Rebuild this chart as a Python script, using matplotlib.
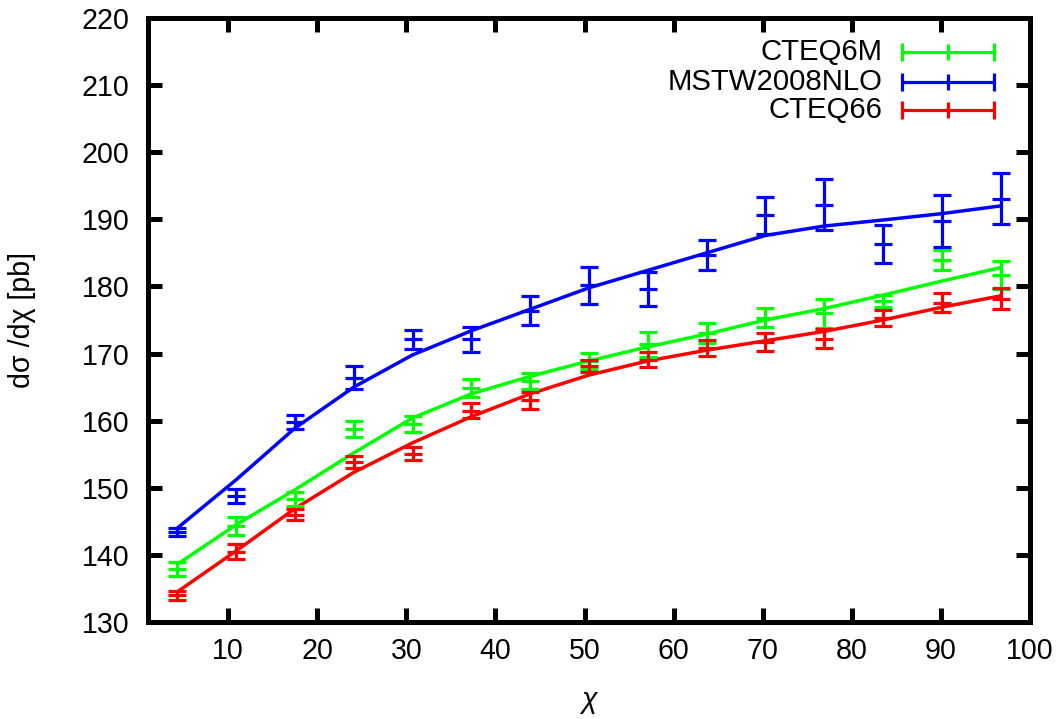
import numpy as np
import matplotlib
matplotlib.use("Agg")
import matplotlib.pyplot as plt

plt.rcParams['font.family'] = ['Liberation Sans', 'DejaVu Sans']

# bin centres in chi
chi = [4.3, 10.9, 17.5, 24.1, 30.7, 37.3, 43.9, 50.5, 57.1, 63.7, 70.3, 76.9, 83.5, 90.1, 96.7]

series_names = ["CTEQ6M", "MSTW2008NLO", "CTEQ66"]
series_colors = ["#00ff00", "#0000ff", "#ff0000"]

# measured points with their uncertainties
cteq6m_val = [137.9, 144.3, 148.3, 158.7, 159.5, 164.9, 165.9, 168.9, 171.4, 173.1, 175.35, 176.0, 177.8, 184.0, 181.65]
cteq6m_err = [1.1, 1.4, 1.0, 1.2, 1.2, 1.3, 1.25, 1.25, 1.85, 1.5, 1.45, 2.2, 0.9, 1.5, 2.1]
mstw_val = [143.4, 148.75, 159.8, 166.4, 172.1, 172.1, 176.4, 180.2, 179.6, 184.7, 190.6, 192.2, 186.3, 189.75, 193.1]
mstw_err = [0.6, 1.0, 1.1, 1.75, 1.45, 1.8, 2.2, 2.75, 2.5, 2.2, 2.8, 3.8, 2.8, 3.85, 3.8]
cteq66_val = [133.95, 140.5, 146.0, 153.8, 155.1, 161.5, 163.05, 168.2, 169.1, 170.8, 171.7, 172.2, 175.25, 177.6, 178.2]
cteq66_err = [0.7, 1.05, 0.8, 0.9, 1.0, 1.1, 1.25, 0.9, 1.15, 1.15, 1.35, 1.4, 1.2, 1.35, 1.6]

# smooth fitted curves evaluated at the bin centres
cteq6m_fit = [138.6, 144.5, 149.7, 155.2, 160.4, 164.0, 166.6, 168.9, 171.0, 172.9, 175.0, 176.7, 178.7, 180.8, 182.8]
mstw_fit = [144.0, 151.2, 158.9, 165.0, 169.8, 173.4, 176.6, 179.8, 182.4, 185.0, 187.6, 189.0, 189.9, 190.85, 192.0]
cteq66_fit = [134.5, 140.6, 146.9, 152.3, 156.7, 160.6, 164.0, 166.8, 168.9, 170.5, 171.9, 173.3, 175.0, 176.9, 178.6]

values = [cteq6m_val, mstw_val, cteq66_val]
errors = [cteq6m_err, mstw_err, cteq66_err]
fits = [cteq6m_fit, mstw_fit, cteq66_fit]

x_ticks = [10, 20, 30, 40, 50, 60, 70, 80, 90, 100]
y_ticks = [130, 140, 150, 160, 170, 180, 190, 200, 210, 220]

fig = plt.figure(figsize=(10.64, 7.19), dpi=100)
ax = fig.add_axes([148 / 1064, 1 - 622 / 719, 882 / 1064, 604 / 719])

fs = 20.6
fs_key = 21.2
lw_bar = 2.3

for name, col, v, e, f in zip(series_names, series_colors, values, errors, fits):
    ax.plot(chi, f, color=col, lw=2.5, solid_capstyle='butt', zorder=2)
    ax.errorbar(chi, v, yerr=e, fmt='none', ecolor=col, elinewidth=lw_bar,
                capsize=6.8, capthick=lw_bar, zorder=3)
    ax.plot(chi, v, linestyle='none', marker='_', ms=13.5, mew=lw_bar, color=col, zorder=3)

# key in the upper right corner
key_rows = [0.9432, 0.8945, 0.8477]
for name, col, yk in zip(series_names, series_colors, key_rows):
    ax.text(0.8322, yk, name, transform=ax.transAxes, ha='right', va='center', fontsize=fs_key)
    ax.plot([0.8549, 0.9592], [yk, yk], color=col, lw=lw_bar, transform=ax.transAxes,
            solid_capstyle='butt', zorder=4)
    ax.plot([0.8549, 0.9592], [yk, yk], linestyle='none', marker='|', ms=13, mew=lw_bar,
            color=col, transform=ax.transAxes, zorder=4)
    ax.plot([0.907], [yk], linestyle='none', marker='|', ms=11, mew=lw_bar,
            color=col, transform=ax.transAxes, zorder=4)

ax.set_xlim(1, 100)
ax.set_ylim(130, 220)
ax.set_xticks(x_ticks)
ax.set_yticks(y_ticks)
ax.tick_params(direction='in', length=10, width=3.6, top=True, right=True,
               labelsize=fs)
ax.tick_params(axis='y', pad=13.5)
ax.tick_params(axis='x', pad=11)
for s in ax.spines.values():
    s.set_linewidth(3.6)

ax.set_xlabel("χ", fontsize=fs, style='italic', labelpad=15)
ax.set_ylabel("dσ /dχ [pb]", fontsize=fs, labelpad=33)

fig.savefig("out.png", dpi=100)
